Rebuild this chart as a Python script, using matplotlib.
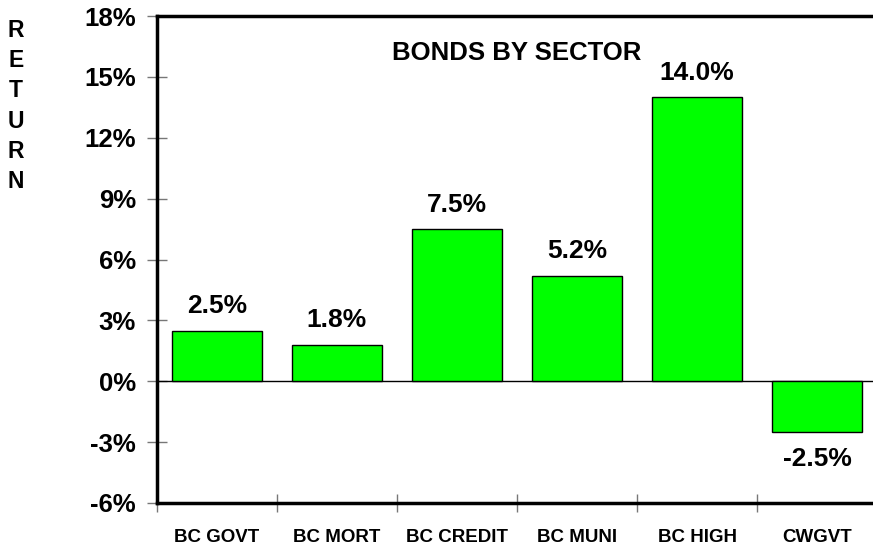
import matplotlib
matplotlib.use("Agg")
import matplotlib.pyplot as plt
import numpy as np

categories = ["BC GOVT", "BC MORT", "BC CREDIT", "BC MUNI", "BC HIGH", "CWGVT"]
values = [2.5, 1.8, 7.5, 5.2, 14.0, -2.5]
yticks = [-6, -3, 0, 3, 6, 9, 12, 15, 18]

plt.rcParams['font.family'] = ['Liberation Sans', 'DejaVu Sans']
plt.rcParams['font.weight'] = 'bold'

fig = plt.figure(figsize=(8.73, 5.46), dpi=100)
ax = fig.add_axes([157/873, 43/546, 720/873, 487/546])

x = np.arange(len(categories))
ax.bar(x, values, width=0.75, color="#00FF00", edgecolor="black", linewidth=1, zorder=3)
ax.axhline(0, color="black", linewidth=1, zorder=2)

ax.set_xlim(-0.5, len(categories) - 0.5)
ax.set_ylim(-6, 18)

ax.set_yticks(yticks)
ax.set_yticklabels([f"{v}%" for v in yticks], fontsize=18.5, fontweight='bold')
ax.tick_params(axis='y', direction='inout', length=14.4, width=1, color='#777777', pad=8.0)

ax.set_xticks(x)
ax.set_xticklabels(categories, fontsize=13.5, fontweight='bold')
ax.set_xticks(np.arange(-0.5, len(categories) + 0.5, 1), minor=True)
ax.tick_params(axis='x', which='major', length=0, pad=18.5)
ax.tick_params(axis='x', which='minor', direction='inout', length=13, width=1, color='#777777')

for s in ['left', 'top', 'bottom']:
    ax.spines[s].set_linewidth(2.5)
ax.spines['right'].set_visible(False)

for xi, v in zip(x, values):
    if v >= 0:
        ax.annotate(f"{v:.1f}%", (xi, v), xytext=(0, 9), textcoords='offset points',
                    ha='center', va='bottom', fontsize=19, fontweight='bold')
    else:
        ax.annotate(f"{v:.1f}%", (xi, v), xytext=(0, -11), textcoords='offset points',
                    ha='center', va='top', fontsize=19, fontweight='bold')

ax.text(0.5, 0.925, "BONDS BY SECTOR", transform=ax.transAxes, ha='center', va='center',
        fontsize=18.5, fontweight='bold')

fig.text(16/873, 1 - 19/546, "R\nE\nT\nU\nR\nN", ha='center', va='top',
         fontsize=16.5, fontweight='bold', linespacing=1.40)

fig.savefig("out.png", dpi=100)
